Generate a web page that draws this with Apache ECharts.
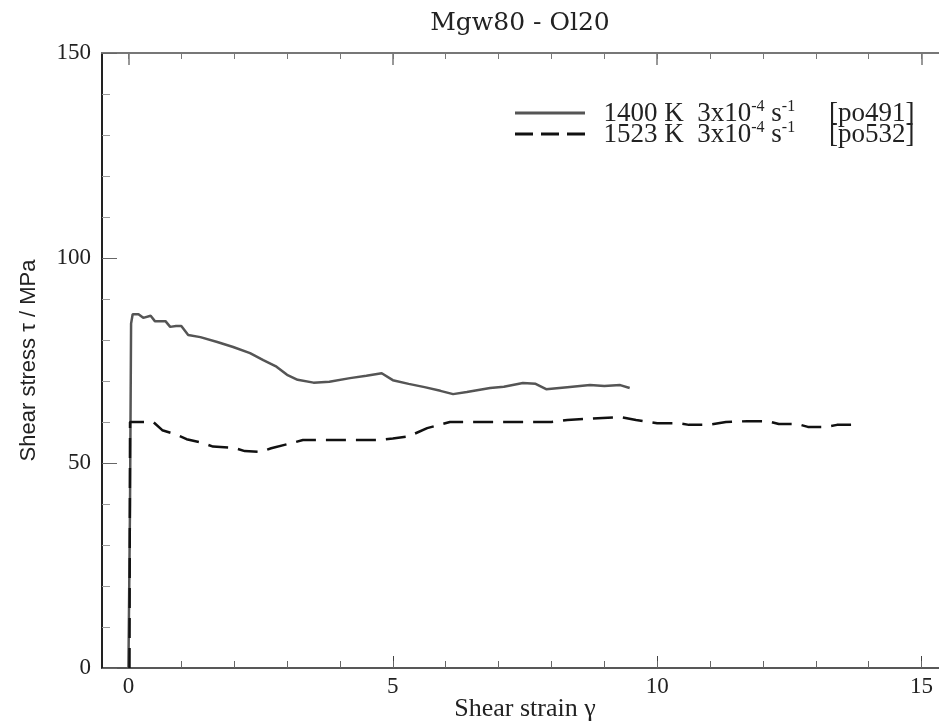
<!DOCTYPE html>
<html>
<head>
<meta charset="utf-8">
<script src="https://cdn.jsdelivr.net/npm/echarts@6/dist/echarts.min.js"></script>
<style>
html,body{margin:0;padding:0;background:#fff;}
#chart{width:939px;height:723px;}
</style>
</head>
<body>
<div id="chart"></div>
<script>
const titleText = 'Mgw80 - Ol20';
const xName = 'Shear strain γ';
const yName = 'Shear stress τ / MPa';
const xMajorTicks = [0, 5, 10, 15];
const xMinorTicks = [0,1,2,3,4,5,6,7,8,9,10,11,12,13,14,15];

const seriesNames = ['po491', 'po532'];

// 1400 K 3x10^-4 s^-1 [po491]
const strain491 = [0.0, 0.03, 0.05, 0.08, 0.19, 0.28, 0.42, 0.5, 0.7, 0.79, 0.9, 1.0, 1.13, 1.36, 1.68, 1.98, 2.3, 2.55, 2.8, 3.0, 3.2, 3.5, 3.8, 4.19, 4.5, 4.79, 5.0, 5.3, 5.6, 5.9, 6.14, 6.4, 6.84, 7.1, 7.46, 7.7, 7.9, 8.3, 8.73, 9.0, 9.3, 9.48];
const stress491 = [0, 40, 84, 86.3, 86.3, 85.4, 85.9, 84.6, 84.6, 83.2, 83.4, 83.4, 81.2, 80.7, 79.5, 78.3, 76.8, 75.1, 73.5, 71.5, 70.3, 69.6, 69.8, 70.7, 71.3, 71.9, 70.2, 69.3, 68.5, 67.6, 66.8, 67.3, 68.3, 68.6, 69.5, 69.3, 68.0, 68.5, 69.0, 68.8, 69.0, 68.3];

// 1523 K 3x10^-4 s^-1 [po532]
const strain532 = [0.02, 0.03, 0.13, 0.47, 0.64, 0.89, 1.1, 1.4, 1.6, 2.0, 2.2, 2.5, 2.7, 3.1, 3.3, 3.6, 3.85, 4.2, 4.75, 5.0, 5.3, 5.65, 6.08, 6.5, 7.0, 7.5, 8.0, 8.3, 8.97, 9.3, 9.6, 10.0, 10.4, 10.6, 10.96, 11.3, 11.7, 12.1, 12.3, 12.66, 12.85, 13.2, 13.4, 13.77];
const stress532 = [0, 60, 60, 60, 58, 57, 55.8, 54.9, 54, 53.7, 52.9, 52.7, 53.6, 54.9, 55.6, 55.6, 55.6, 55.6, 55.6, 56, 56.5, 58.5, 60, 60, 60, 60, 60, 60.5, 61, 61.2, 60.5, 59.7, 59.7, 59.3, 59.3, 60, 60.2, 60.2, 59.5, 59.5, 58.8, 58.8, 59.3, 59.3];

const legendLabels = {
  po491: '{t|  1400 K  3x10}{s|-4}{t| s}{s|-1}{t|     [po491]}',
  po532: '{t|  1523 K  3x10}{s|-4}{t| s}{s|-1}{t|     [po532]}'
};

const zip = (xs, ys) => xs.map((x, i) => [x, ys[i]]);

const serif = 'Liberation Serif';
const wide = 'DejaVu Serif';

const chart = echarts.init(document.getElementById('chart'), null, {renderer: 'canvas'});
chart.setOption({
  backgroundColor: '#fff',
  animation: false,
  title: {
    text: titleText,
    left: 515, top: 6, textAlign: 'center',
    textStyle: {fontFamily: wide, fontSize: 25, fontWeight: 'normal', color: '#222'}
  },
  grid: {left: 102, right: -9, top: 53, bottom: 55, outerBoundsMode: 'none', containLabel: false},
  legend: {
    orient: 'vertical',
    left: 515, top: 99, padding: 0,
    itemWidth: 70, itemHeight: 3, itemGap: -7,
    itemStyle: {borderWidth: 0},
    formatter: n => legendLabels[n],
    textStyle: {
      rich: {
        t: {fontFamily: serif, fontSize: 27, color: '#222', lineHeight: 28, verticalAlign: 'bottom'},
        s: {fontFamily: serif, fontSize: 16, color: '#222', lineHeight: 12, verticalAlign: 'top'}
      }
    },
    data: [
      {name: 'po491', icon: 'path://M0,0H70V3H0Z'},
      {name: 'po532', icon: 'path://M0,0H18V3H0ZM26,0H44V3H26ZM52,0H70V3H52Z'}
    ]
  },
  xAxis: [
    {
      type: 'value', position: 'bottom', min: -0.5, max: 15.5,
      axisLine: {show: true, onZero: false, lineStyle: {color: '#222', width: 1.5}},
      axisTick: {show: true, inside: true, length: 12, customValues: xMajorTicks, lineStyle: {color: '#444', width: 1}},
      axisLabel: {show: true, customValues: xMajorTicks, margin: 7, fontFamily: serif, fontSize: 23, color: '#222'},
      splitLine: {show: false},
      name: xName, nameLocation: 'middle', nameGap: 28, nameMoveOverlap: false,
      nameTextStyle: {fontFamily: serif, fontSize: 26, color: '#222'}
    },
    {
      type: 'value', position: 'bottom', min: -0.5, max: 15.5,
      axisLine: {show: false},
      axisTick: {show: true, inside: true, length: 7, customValues: xMinorTicks, lineStyle: {color: '#666', width: 1}},
      axisLabel: {show: false},
      splitLine: {show: false}
    },
    {
      type: 'value', position: 'top', min: -0.5, max: 15.5,
      axisLine: {show: true, onZero: false, lineStyle: {color: '#777', width: 2}},
      axisTick: {show: true, inside: true, length: 12, customValues: xMajorTicks, lineStyle: {color: '#777', width: 1.5}},
      axisLabel: {show: false},
      splitLine: {show: false}
    },
    {
      type: 'value', position: 'top', min: -0.5, max: 15.5,
      axisLine: {show: false},
      axisTick: {show: true, inside: true, length: 6, customValues: xMinorTicks, lineStyle: {color: '#777', width: 1}},
      axisLabel: {show: false},
      splitLine: {show: false}
    }
  ],
  yAxis: [
    {
      type: 'value', position: 'left', min: 0, max: 150, interval: 50,
      axisLine: {show: true, onZero: false, lineStyle: {color: '#222', width: 2}},
      axisTick: {show: true, inside: true, length: 15, lineStyle: {color: '#666', width: 1}},
      minorTick: {show: true, splitNumber: 5, length: 8, lineStyle: {color: '#999', width: 1}},
      axisLabel: {margin: 11, fontFamily: serif, fontSize: 23, color: '#222'},
      splitLine: {show: false},
      minorSplitLine: {show: false},
      name: yName, nameLocation: 'middle', nameRotate: 90, nameGap: 62, nameMoveOverlap: false,
      nameTextStyle: {fontFamily: 'Liberation Sans Narrow, Liberation Sans', fontSize: 22, color: '#222'}
    }
  ],
  series: [
    {
      name: seriesNames[0], type: 'line', xAxisIndex: 0, yAxisIndex: 0,
      symbol: 'none', showSymbol: false, silent: true,
      lineStyle: {color: '#555', width: 2.5},
      itemStyle: {color: '#555'},
      data: zip(strain491, stress491)
    },
    {
      name: seriesNames[1], type: 'line', xAxisIndex: 0, yAxisIndex: 0,
      symbol: 'none', showSymbol: false, silent: true,
      lineStyle: {color: '#111', width: 2.5, type: [20, 10]},
      itemStyle: {color: '#111'},
      data: zip(strain532, stress532)
    }
  ]
});
</script>
</body>
</html>
